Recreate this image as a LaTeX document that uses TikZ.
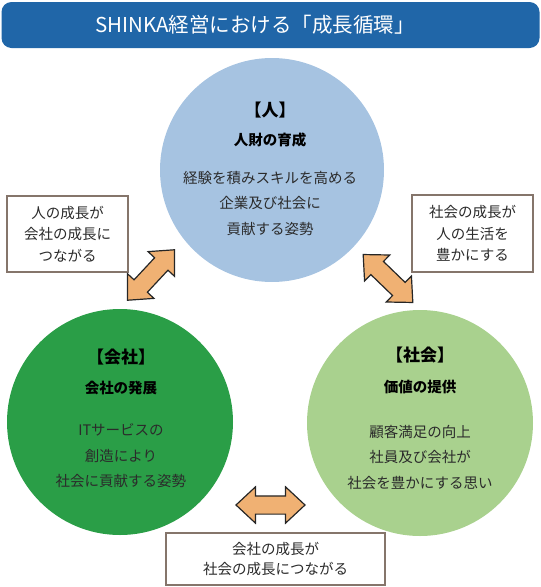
\documentclass[tikz,border=0pt]{standalone}
\usepackage{fontspec}
\setmainfont{Noto Sans CJK JP}
\usetikzlibrary{shapes.arrows}
\definecolor{titleblue}{HTML}{2066A8}
\definecolor{hitoblue}{HTML}{A6C3E1}
\definecolor{kaishagreen}{HTML}{2A9E47}
\definecolor{shakaigreen}{HTML}{A9D18E}
\definecolor{arroworange}{HTML}{F0B173}
\definecolor{boxborder}{HTML}{85756B}
\definecolor{bodytext}{HTML}{2B2B2B}
\tikzset{
  disc/.style={circle, inner sep=0pt, minimum size=226pt, draw=none},
  headtext/.style={font=\fontsize{17pt}{20pt}\selectfont\bfseries, text=black},
  subtext/.style={font=\fontsize{14.5pt}{18pt}\selectfont\bfseries, text=black},
  bodytxt/.style={font=\fontsize{14.5pt}{25.5pt}\selectfont, text=bodytext, align=center},
  notebox/.style={draw=boxborder, line width=1.3pt, fill=white, align=center, inner sep=0pt,
    font=\fontsize{14.5pt}{21.5pt}\selectfont, text=bodytext},
  blockarrow/.style={double arrow, draw=black!85, line width=1.2pt, fill=arroworange,
    minimum height=69pt, double arrow head extend=9pt,
    double arrow tip angle=86, inner sep=8.5pt}
}
\begin{document}
\begin{tikzpicture}[x=1pt,y=-1pt]
\useasboundingbox (0,0) rectangle (541,587);
% title
\node[fill=titleblue, rounded corners=10pt, minimum width=538pt, minimum height=46pt, inner sep=0pt] (titlebar) at (270.5,25) {};
\node[text=white, font=\fontsize{20.5pt}{24pt}\selectfont] (titletext) at (255,25) {SHINKA経営における「成長循環」};
% circles
\node[disc, fill=hitoblue, minimum size=224pt] (hito) at (272,170) {};
\node[disc, fill=kaishagreen] (kaisha) at (120,422) {};
\node[disc, fill=shakaigreen] (shakai) at (420,423) {};
% top circle text
\node[headtext] (hitohead) at (270,110) {【人】};
\node[subtext] (hitosub) at (270,140) {人財の育成};
\node[bodytxt] (hitobody) at (270,203) {経験を積みスキルを高める\\企業及び社会に\\貢献する姿勢};
% left circle text
\node[headtext] (kaishahead) at (121,357) {【会社】};
\node[subtext] (kaishasub) at (121,388) {会社の発展};
\node[bodytxt] (kaishabody) at (121,456) {ITサービスの\\創造により\\社会に貢献する姿勢};
% right circle text
\node[headtext] (shakaihead) at (420,355) {【社会】};
\node[subtext] (shakaisub) at (420,387) {価値の提供};
\node[bodytxt] (shakaibody) at (420,457) {顧客満足の向上\\社員及び会社が\\社会を豊かにする思い};
% note boxes
\node[notebox, minimum width=121pt, minimum height=76pt] (noteleft) at (67.5,234) {人の成長が\\会社の成長に\\つながる};
\node[notebox, minimum width=121pt, minimum height=77pt] (noteright) at (472.5,233.5) {社会の成長が\\人の生活を\\豊かにする};
\node[notebox, minimum width=219pt, minimum height=52pt, font=\fontsize{14.5pt}{20pt}\selectfont] (notebottom) at (275.5,559) {会社の成長が\\社会の成長につながる};
% block arrows
\node[blockarrow, rotate=47] (arrowleft) at (151,275) {};
\node[blockarrow, rotate=-44] (arrowright) at (388,278.5) {};
\node[blockarrow] (arrowbottom) at (270.5,505) {};
\end{tikzpicture}
\end{document}
